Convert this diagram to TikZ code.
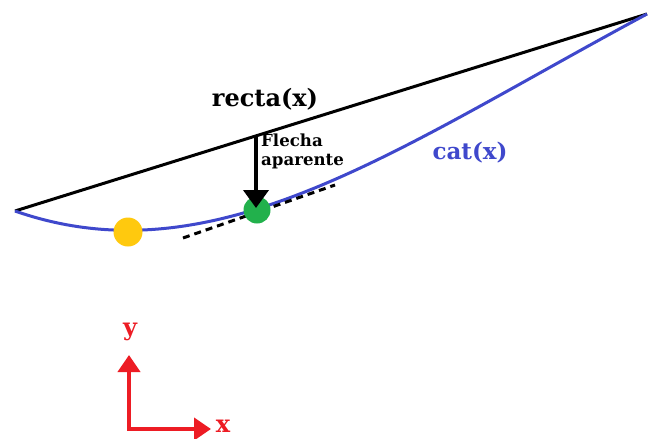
\documentclass[tikz,border=0pt]{standalone}
\usepackage{fontspec}
\newfontfamily\lblfont{DejaVu Serif}
\usetikzlibrary{arrows.meta}
\definecolor{cblue}{HTML}{3F48CC}
\definecolor{cyellow}{HTML}{FFC90E}
\definecolor{cgreen}{HTML}{22B14C}
\definecolor{cred}{HTML}{ED1C24}
\tikzset{
  chord/.style={line width=3pt, black},
  catline/.style={line width=3pt, cblue},
  tangentline/.style={line width=3pt, black, dash pattern=on 7pt off 5pt},
  dot/.style={circle, inner sep=0pt, minimum size=#1},
  fleche/.style={line width=4pt, -{Triangle[width=25pt,length=18pt]}},
  axisarrow/.style={line width=4pt, cred, -{Triangle[width=22pt,length=17pt]}},
  lbl/.style={inner sep=0pt, font=\lblfont\bfseries},
}
\begin{document}
\begin{tikzpicture}[x=1pt,y=-1pt]
\useasboundingbox[fill=white] (0,0) rectangle (648,439);
\coordinate (L) at (15,211);
\coordinate (R) at (647,14);
\coordinate (top) at (256,136);
\coordinate (t1) at (183,238);
\coordinate (t2) at (335,185);
% chord
\draw[chord, line join=round] (L) -- (R);
% catenary
\draw[catline] (L) .. controls (215,281) and (397,148) .. (R);
% tangent
\draw[tangentline] (t1) -- (t2);
% points
\node[dot=29pt, fill=cyellow] (ymin) at (128,232) {};
\node[dot=27pt, fill=cgreen] (gp) at (257,210) {};
% arrow
\coordinate (tip) at (256,208);
\draw[fleche] (top) -- (tip);
% labels
\node[lbl, font=\lblfont\bfseries\fontsize{24}{26}\selectfont] (recta) at (265,99) {recta(x)};
\node[lbl, text=cblue, font=\lblfont\bfseries\fontsize{23}{25}\selectfont] (cat) at (470,153) {cat(x)};
\node[lbl, anchor=north west, align=left, font=\lblfont\bfseries\fontsize{16.6}{18.5}\selectfont] (flecha) at (261,134) {Flecha\\aparente};
% axes
\coordinate (o) at (129,429);
\coordinate (ytip) at (129,355);
\coordinate (xtip) at (211,429);
\draw[axisarrow] (o) -- (ytip);
\draw[axisarrow] ([xshift=-2pt]o) -- (xtip);
\node[lbl, text=cred, font=\lblfont\bfseries\fontsize{24}{26}\selectfont] (ylab) at (130,332) {y};
\node[lbl, text=cred, font=\lblfont\bfseries\fontsize{24}{26}\selectfont] (xlab) at (223,426) {x};
\end{tikzpicture}
\end{document}
